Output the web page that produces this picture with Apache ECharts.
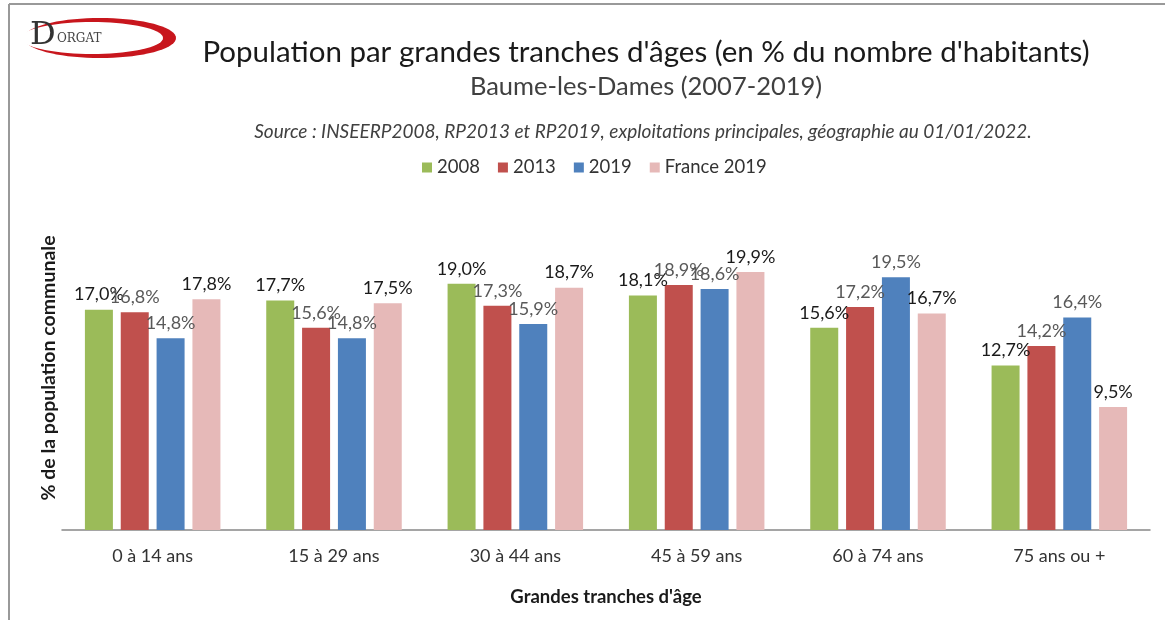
<!DOCTYPE html>
<html>
<head>
<meta charset="utf-8">
<script src="https://cdn.jsdelivr.net/npm/echarts@6/dist/echarts.min.js"></script>
<style>
  html, body { margin: 0; padding: 0; background: #fff; }
  #chart { width: 1165px; height: 620px; }
</style>
</head>
<body>
<div id="chart"></div>
<script>
// categories & values
var categories = ["0 à 14 ans", "15 à 29 ans", "30 à 44 ans", "45 à 59 ans", "60 à 74 ans", "75 ans ou +"];
var seriesNames = ["2008", "2013", "2019", "France 2019"];
var values2008 = [17.0, 17.7, 19.0, 18.1, 15.6, 12.7];
var values2013 = [16.8, 15.6, 17.3, 18.9, 17.2, 14.2];
var values2019 = [14.8, 14.8, 15.9, 18.6, 19.5, 16.4];
var valuesFrance = [17.8, 17.5, 18.7, 19.9, 16.7, 9.5];

var colors = ["#9BBB59", "#C0504D", "#4F81BD", "#E6B9B8"];
var font = "Lato, 'Open Sans', sans-serif";

var myChart = echarts.init(document.getElementById("chart")); //init

function fmt(p) {
  return p.value.toFixed(1).replace(".", ",") + "%";
}

// logo swoosh outline points
function ellipsePts(cx, cy, rx, ry) {
  var pts = [];
  for (var i = 0; i < 72; i++) {
    var a = i / 72 * Math.PI * 2;
    pts.push([cx + rx * Math.cos(a), cy + ry * Math.sin(a)]);
  }
  return pts;
}

function makeBar(name, data, idx, dark) {
  return {
    name: name,
    type: "bar",
    data: data,
    barWidth: 28,
    barGap: "28%",
    itemStyle: { color: colors[idx] },
    label: {
      show: true,
      position: "top",
      distance: 6,
      formatter: fmt,
      fontFamily: font,
      fontSize: 18,
      color: dark ? "#1a1a1a" : "#595959"
    }
  };
}

var option = {
  animation: false,
  textStyle: { fontFamily: font },
  title: [
    {
      text: "Population par grandes tranches d'âges (en % du nombre d'habitants)",
      left: 641, top: 32, textAlign: "center",
      textStyle: { fontSize: 29.5, fontWeight: "normal", color: "#1a1a1a", fontFamily: font }
    },
    {
      text: "Baume-les-Dames (2007-2019)",
      left: 641, top: 69, textAlign: "center",
      textStyle: { fontSize: 25.5, fontWeight: "normal", color: "#404040", fontFamily: font }
    },
    {
      text: "Source : INSEERP2008, RP2013 et RP2019, exploitations principales, géographie au 01/01/2022.",
      left: 638, top: 117, textAlign: "center",
      textStyle: { fontSize: 19, fontWeight: "normal", fontStyle: "italic", color: "#404040", fontFamily: font }
    }
  ],
  legend: {
    data: seriesNames,
    left: 417, top: 153,
    itemWidth: 10, itemHeight: 10, itemGap: 18,
    icon: "rect",
    textStyle: { fontSize: 18.5, color: "#333", fontFamily: font }
  },
  grid: { left: 62, right: 15, top: 206, bottom: 90, containLabel: false },
  xAxis: {
    type: "category",
    data: categories,
    name: "Grandes tranches d'âge",
    nameLocation: "middle",
    nameGap: 58,
    nameTextStyle: { fontSize: 18.5, fontWeight: "bold", color: "#1a1a1a", fontFamily: font },
    axisLine: { lineStyle: { color: "#888", width: 1.5 } },
    axisTick: { show: false },
    axisLabel: { fontSize: 18, color: "#333", margin: 17, fontFamily: font }
  },
  yAxis: {
    type: "value",
    min: 0, max: 25,
    name: "% de la population communale",
    nameLocation: "middle",
    nameGap: 3,
    nameTextStyle: { fontSize: 19.5, fontWeight: "bold", color: "#1a1a1a", fontFamily: font },
    axisLine: { show: false },
    axisTick: { show: false },
    axisLabel: { show: false },
    splitLine: { show: false }
  },
  series: [
    makeBar(seriesNames[0], values2008, 0, true),
    makeBar(seriesNames[1], values2013, 1, false),
    makeBar(seriesNames[2], values2019, 2, false),
    makeBar(seriesNames[3], valuesFrance, 3, true)
  ],
  graphic: [
    // frame
    { type: "line", shape: { x1: 9, y1: 4, x2: 1165, y2: 4 }, style: { stroke: "#999", lineWidth: 2 } },
    { type: "line", shape: { x1: 9, y1: 4, x2: 9, y2: 620 }, style: { stroke: "#999", lineWidth: 2 } },
    // logo
    { type: "polygon", shape: { points: ellipsePts(100, 38, 76, 20) }, style: { fill: "#C8161D" } },
    { type: "polygon", shape: { points: ellipsePts(92, 38, 71, 16) }, style: { fill: "#fff" } },
    { type: "text", left: 30, top: 20, style: { text: "D", fontSize: 32, fontFamily: "'DejaVu Serif', serif", fill: "#333" } },
    { type: "text", left: 57, top: 33, style: { text: "ORGAT", fontSize: 12, fontFamily: "'DejaVu Serif', serif", fill: "#444" } }
  ]
};

myChart.setOption(option);
</script>
</body>
</html>
